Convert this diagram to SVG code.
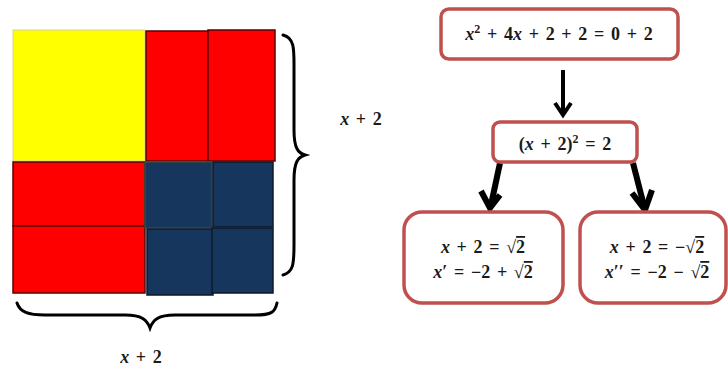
<svg xmlns="http://www.w3.org/2000/svg" width="728" height="369" viewBox="0 0 728 369">
<defs>
<style>
.y{fill:#ffff00;stroke:#d8d0a0;stroke-width:1}
.r{fill:#ff0000;stroke:#5a0000;stroke-width:1.5}
.n{fill:#17365d;stroke:#0d1a2a;stroke-width:1.5}
.box{fill:#fff;stroke:#c0504d;stroke-width:3.5}
.t{font-family:"Liberation Serif",serif;font-weight:bold;font-size:18px;fill:#1a1a1a;text-anchor:middle;word-spacing:2.2px}
.i{font-style:italic}
.br{fill:none;stroke:#000;stroke-width:3;stroke-linecap:round}
.ar{fill:none;stroke:#000;stroke-linecap:butt}
.sq{text-decoration:overline}
</style>
</defs>
<rect width="728" height="369" fill="#fff"/>
<g id="square">
<rect class="y" x="13" y="30" width="132" height="131"/>
<rect class="r" x="146" y="31" width="62" height="130"/>
<rect class="r" x="208" y="30" width="67" height="131"/>
<rect class="r" x="13" y="162" width="132" height="64"/>
<rect class="r" x="13" y="226" width="132" height="67"/>
<rect class="n" x="145" y="162" width="67" height="66" style="stroke:#3a4a3a"/>
<rect class="n" x="213" y="162" width="60" height="65"/>
<rect class="n" x="147" y="229" width="66" height="66"/>
<rect class="n" x="212" y="228" width="61" height="65"/>
</g>
<g id="brace-right">
<path class="br" d="M283,35 C295,38 294,50 294,70 L294,130 C294,148 298,153 305,155 C298,157 294,162 294,180 L294,245 C294,265 293,272 283,275"/>
<text class="t" x="361" y="125"><tspan class="i">x</tspan> + 2</text>
</g>
<g id="brace-bottom">
<path class="br" d="M17,303 C20,312 28,315 45,315 L125,315 C142,315 147,320 150,328 C153,320 158,315 175,315 L255,315 C272,315 275,312 277,303"/>
<text class="t" x="141" y="363"><tspan class="i">x</tspan> + 2</text>
</g>
<g id="connectors">
<path class="ar" stroke-width="4" d="M563,70 L563,113"/>
<path class="ar" stroke-width="4" d="M555,103 L563,115 L571,103" stroke-linejoin="miter"/>
<path class="ar" stroke-width="6" d="M500,163 L491,205"/>
<path class="ar" stroke-width="6" d="M481,191 L490,208 L500,195" stroke-linejoin="miter"/>
<path class="ar" stroke-width="6" d="M633,163 L644,206"/>
<path class="ar" stroke-width="6" d="M632,193 L645,210 L652,190" stroke-linejoin="miter"/>
</g>
<g id="node-top">
<rect class="box" x="441" y="9" width="237" height="50" rx="8"/>
<text class="t" x="559" y="40"><tspan class="i">x</tspan><tspan font-size="12" dy="-7">2</tspan><tspan dy="7"> + 4</tspan><tspan class="i">x</tspan> + 2 + 2 = 0 + 2</text>
</g>
<g id="node-mid">
<rect class="box" x="493" y="122" width="144" height="40" rx="7"/>
<text class="t" x="565" y="150">(<tspan class="i">x</tspan> + 2)<tspan font-size="12" dy="-7">2</tspan><tspan dy="7"> = 2</tspan></text>
</g>
<g id="node-left">
<rect class="box" x="404" y="212" width="159" height="91" rx="18"/>
<text class="t" x="483" y="253"><tspan class="i">x</tspan> + 2 = √<tspan class="sq">2</tspan></text>
<text class="t" x="483" y="278"><tspan class="i">x</tspan>′ = −2 + √<tspan class="sq">2</tspan></text>
</g>
<g id="node-right">
<rect class="box" x="580" y="212" width="146" height="91" rx="18"/>
<text class="t" x="657" y="253"><tspan class="i">x</tspan> + 2 = −√<tspan class="sq">2</tspan></text>
<text class="t" x="657" y="278"><tspan class="i">x</tspan>′′ = −2 − √<tspan class="sq">2</tspan></text>
</g>
</svg>
